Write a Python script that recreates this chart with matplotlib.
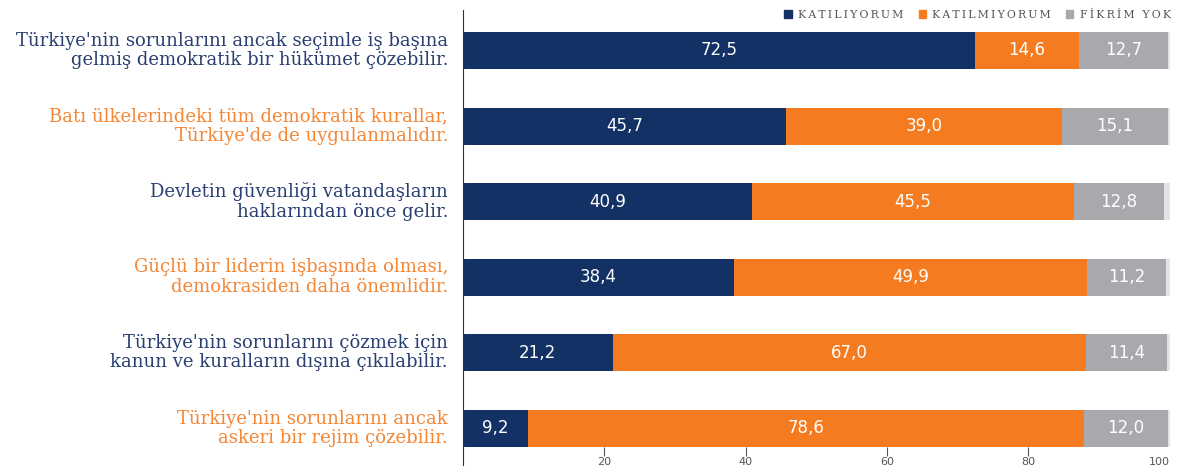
import numpy as np
import matplotlib.pyplot as plt
from matplotlib.patches import Patch

# statements (left labels)
labels = [
    "Türkiye'nin sorunlarını ancak seçimle iş başına\ngelmiş demokratik bir hükümet çözebilir.",
    "Batı ülkelerindeki tüm demokratik kurallar,\nTürkiye'de de uygulanmalıdır.",
    "Devletin güvenliği vatandaşların\nhaklarından önce gelir.",
    "Güçlü bir liderin işbaşında olması,\ndemokrasiden daha önemlidir.",
    "Türkiye'nin sorunlarını çözmek için\nkanun ve kuralların dışına çıkılabilir.",
    "Türkiye'nin sorunlarını ancak\naskeri bir rejim çözebilir.",
]
katiliyorum = [72.5, 45.7, 40.9, 38.4, 21.2, 9.2]
katilmiyorum = [14.6, 39.0, 45.5, 49.9, 67.0, 78.6]
fikrim_yok = [12.7, 15.1, 12.8, 11.2, 11.4, 12.0]
series_names = ["KATILIYORUM", "KATILMIYORUM", "FİKRİM YOK"]
xticks = [20, 40, 60, 80, 100]

navy = "#133165"
orange = "#f47b20"
gray = "#a7a9ac"
rest_col = "#e3e4e6"
label_cols = ["#2a3f72", "#f58634"]

a = np.array(katiliyorum)
b = np.array(katilmiyorum)
c = np.array(fikrim_yok)
rest = 100 - (a + b + c)
y = np.arange(len(labels))

fig = plt.figure(figsize=(11.84, 4.72), dpi=100)
ax = fig.add_axes([0.391, 0.053, 0.597, 0.9258])

h = 0.49
ax.barh(y, a, height=h, color=navy)
ax.barh(y, b, left=a, height=h, color=orange)
ax.barh(y, c, left=a + b, height=h, color=gray)
ax.barh(y, rest, left=a + b + c, height=h, color=rest_col)

def fmt(v):
    return f"{v:.1f}".replace(".", ",")

for i in y:
    ax.text(a[i] / 2, i, fmt(a[i]), ha="center", va="center", color="white", fontsize=12)
    ax.text(a[i] + b[i] / 2, i, fmt(b[i]), ha="center", va="center", color="white", fontsize=12)
    ax.text(a[i] + b[i] + c[i] / 2, i, fmt(c[i]), ha="center", va="center", color="white", fontsize=12)
    ax.text(-2.1, i, labels[i], ha="right", va="center", fontsize=13,
            family="DejaVu Serif", color=label_cols[i % 2], linespacing=1.08)

ax.set_xlim(0, 100)
ax.set_ylim(5.25, -0.536)
ax.set_yticks([])
ax.set_xticks(xticks)
ax.set_xticklabels([str(t) for t in xticks])
ax.tick_params(axis="x", direction="out", length=6.5, width=0.8, color="#555555",
               labelsize=8, labelcolor="#555555", pad=0.5)
ax.xaxis.get_major_ticks()[-1].tick1line.set_visible(False)
ax.get_xticklabels()[-1].set_horizontalalignment("right")
for s in ["top", "right", "bottom"]:
    ax.spines[s].set_visible(False)
ax.spines["left"].set_color("#333333")
ax.spines["left"].set_linewidth(0.8)
ax.spines["left"].set_bounds(5.49, -0.536)

# letter-spaced legend labels
spaced = ["\u2009".join(n) for n in series_names]
handles = [Patch(color=navy), Patch(color=orange), Patch(color=gray)]
leg = fig.legend(handles, spaced, ncol=3, loc="upper right",
                 bbox_to_anchor=(0.997, 1.0), frameon=False,
                 handlelength=0.65, handleheight=0.65, handletextpad=0.6,
                 columnspacing=1.4, prop={"family": "DejaVu Serif", "size": 7.8})
for t in leg.get_texts():
    t.set_color("#555555")

fig.savefig("out.png", dpi=100)
